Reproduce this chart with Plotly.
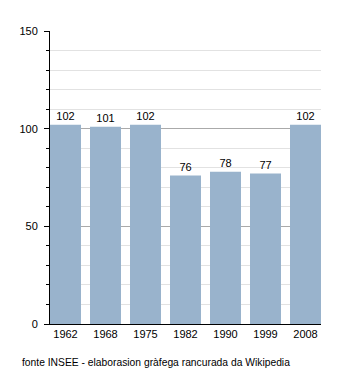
import plotly.graph_objects as go

years = ["1962", "1968", "1975", "1982", "1990", "1999", "2008"]
population = [102, 101, 102, 76, 78, 77, 102]

fig = go.Figure(
    go.Bar(
        x=years,
        y=population,
        marker=dict(color="#99b3cc", line=dict(width=0)),
        text=[str(v) for v in population],
        textposition="outside",
        textfont=dict(size=11, color="#000000"),
        cliponaxis=False,
    )
)

fig.update_layout(
    width=350,
    height=373,
    margin=dict(l=50, r=29, t=31, b=49),
    paper_bgcolor="white",
    plot_bgcolor="white",
    font=dict(family="Liberation Sans, Arial, sans-serif", size=11, color="#000000"),
    bargap=0.225,
    showlegend=False,
    annotations=[
        dict(
            text="fonte INSEE - elaborasion gràfega rancurada da Wikipedia",
            xref="paper", yref="paper",
            x=-0.11, y=-0.132,
            xanchor="left", yanchor="middle",
            showarrow=False,
            font=dict(size=10.3, color="#000000"),
        )
    ],
)

fig.update_xaxes(
    range=[-0.3875, 6.3875],
    showline=True, linecolor="#000000", linewidth=1,
    ticks="", showgrid=False,
    tickfont=dict(size=11),
)

fig.update_yaxes(
    range=[0, 150],
    dtick=50,
    showline=True, linecolor="#000000", linewidth=1,
    ticks="outside", ticklen=5, tickcolor="#000000",
    ticklabelstandoff=4,
    showgrid=True, gridcolor="#aaaaaa", gridwidth=1,
    zeroline=False,
    tickfont=dict(size=11),
    minor=dict(dtick=10, showgrid=True, gridcolor="#e2e2e2",
               ticks="outside", ticklen=3, tickcolor="#000000"),
)

fig.write_html("out.html")
